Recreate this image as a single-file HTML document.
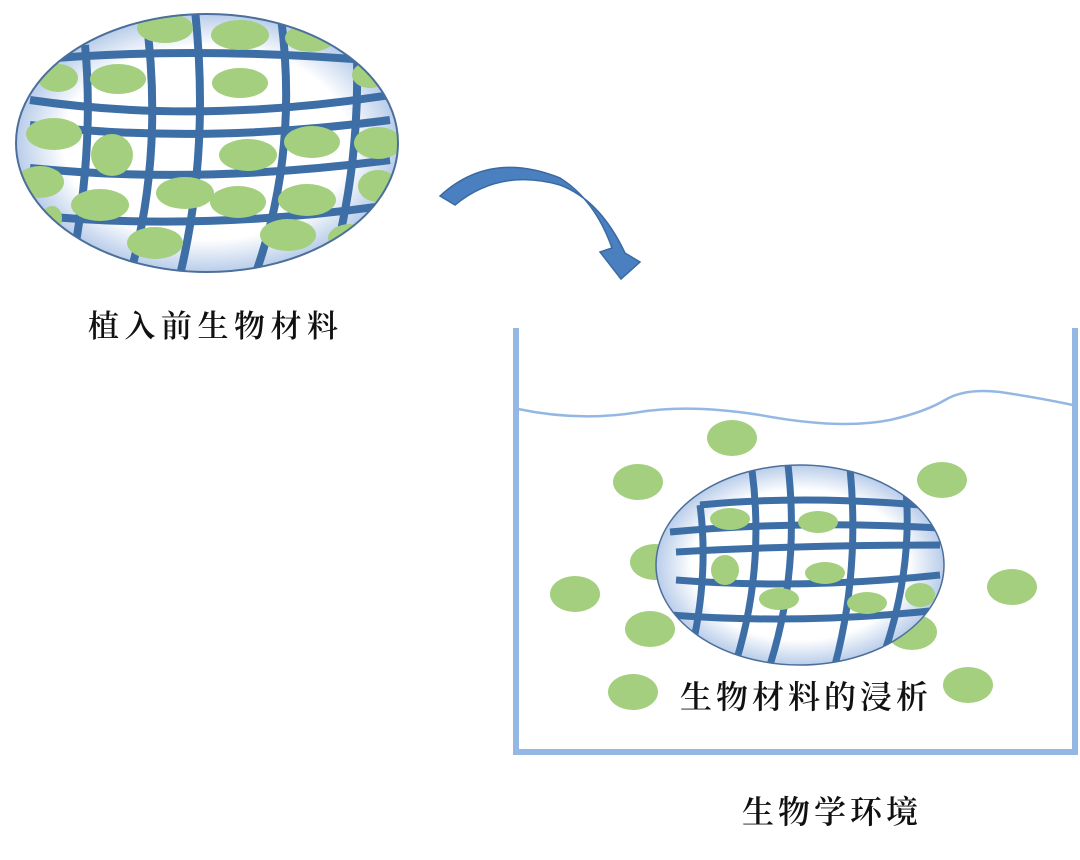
<!DOCTYPE html>
<html><head><meta charset="utf-8"><style>
body{margin:0;background:#fff;width:1080px;height:855px;overflow:hidden}
svg text{font-family:"Noto Serif CJK SC","Liberation Serif",serif;fill:#111;font-weight:600}
</style></head><body>
<svg width="1080" height="855" viewBox="0 0 1080 855">
<defs>
<radialGradient id="lens" cx="50%" cy="50%" r="50%">
<stop offset="0.75" stop-color="#fff"/><stop offset="1" stop-color="#b9cdea"/>
</radialGradient>
<clipPath id="c1"><ellipse cx="207" cy="143" rx="191" ry="129"/></clipPath>
<clipPath id="c2"><ellipse cx="800" cy="565" rx="144" ry="100"/></clipPath>
</defs>
<ellipse cx="207" cy="143" rx="191" ry="129" fill="url(#lens)"/>
<g clip-path="url(#c1)" stroke="#3d6fa6" stroke-width="8" fill="none">
<path d="M30 60 Q200 45 390 62"/>
<path d="M30 100 Q200 125 390 95"/>
<path d="M30 125 Q200 145 390 120"/>
<path d="M30 168 Q200 185 390 160"/>
<path d="M30 215 Q200 232 390 205"/>
<path d="M85 45 Q95 150 70 275"/>
<path d="M145 10 Q165 150 130 275"/>
<path d="M195 10 Q210 150 180 275"/>
<path d="M280 10 Q300 150 255 275"/>
<path d="M355 20 Q365 150 330 275"/>
</g>
<g clip-path="url(#c1)" fill="#a3cf7e">
<ellipse cx="165" cy="28" rx="28" ry="15"/><ellipse cx="240" cy="35" rx="29" ry="15"/><ellipse cx="310" cy="38" rx="25" ry="14"/>
<ellipse cx="58" cy="78" rx="20" ry="14"/><ellipse cx="118" cy="79" rx="28" ry="15"/><ellipse cx="240" cy="83" rx="28" ry="15"/><ellipse cx="370" cy="75" rx="18" ry="13"/>
<ellipse cx="54" cy="134" rx="28" ry="16"/><ellipse cx="112" cy="155" rx="21" ry="21"/><ellipse cx="248" cy="155" rx="29" ry="16"/><ellipse cx="312" cy="142" rx="28" ry="16"/><ellipse cx="378" cy="143" rx="24" ry="16"/>
<ellipse cx="40" cy="182" rx="24" ry="16"/><ellipse cx="100" cy="205" rx="29" ry="16"/><ellipse cx="185" cy="193" rx="29" ry="16"/><ellipse cx="238" cy="202" rx="28" ry="16"/><ellipse cx="307" cy="200" rx="29" ry="16"/><ellipse cx="378" cy="186" rx="20" ry="16"/>
<ellipse cx="155" cy="243" rx="28" ry="16"/><ellipse cx="288" cy="235" rx="28" ry="16"/><ellipse cx="350" cy="238" rx="22" ry="14"/><ellipse cx="52" cy="218" rx="10" ry="12"/>
</g>
<ellipse cx="207" cy="143" rx="191" ry="129" fill="none" stroke="#4b6f9a" stroke-width="2"/>
<text x="88" y="337" font-size="31" letter-spacing="5.5">植入前生物材料</text>
<path d="M440 196 Q490 150 560 178 Q595 200 612 248 L600 252 L621 279 L640 262 L625 253 Q600 200 560 185 Q500 168 455 205 Z" fill="#4a80c0" stroke="#3a6aa2" stroke-width="1.5"/>
<path d="M516 328 L516 752 L1075 752 L1075 328" fill="none" stroke="#94b8e3" stroke-width="6"/>
<path d="M518 409 Q580 422 640 412 Q690 404 760 415 Q840 430 890 420 Q925 412 945 400 Q965 388 1000 392 Q1040 398 1073 405" fill="none" stroke="#94b8e3" stroke-width="2.5"/>
<g fill="#a3cf7e">
<ellipse cx="732" cy="438" rx="25" ry="18"/><ellipse cx="638" cy="482" rx="25" ry="18"/><ellipse cx="942" cy="480" rx="25" ry="18"/>
<ellipse cx="655" cy="562" rx="25" ry="18"/><ellipse cx="575" cy="594" rx="25" ry="18"/><ellipse cx="1012" cy="587" rx="25" ry="18"/>
<ellipse cx="650" cy="629" rx="25" ry="18"/><ellipse cx="912" cy="632" rx="25" ry="18"/><ellipse cx="633" cy="692" rx="25" ry="18"/><ellipse cx="968" cy="685" rx="25" ry="18"/>
</g>
<ellipse cx="800" cy="565" rx="144" ry="100" fill="url(#lens)"/>
<g clip-path="url(#c2)" stroke="#3d6fa6" stroke-width="7" fill="none">
<path d="M670 532 Q800 520 940 528"/>
<path d="M676 552 Q800 545 940 545"/>
<path d="M676 580 Q800 590 940 575"/>
<path d="M670 615 Q800 625 940 610"/>
<path d="M700 505 Q710 580 688 665"/>
<path d="M752 470 Q765 570 735 665"/>
<path d="M788 465 Q800 570 770 665"/>
<path d="M850 468 Q860 570 835 665"/>
<path d="M905 480 Q915 570 880 665"/>
<path d="M700 505 Q800 495 920 505"/>
</g>
<g clip-path="url(#c2)" fill="#a3cf7e">
<ellipse cx="730" cy="519" rx="20" ry="11"/><ellipse cx="818" cy="522" rx="20" ry="11"/>
<ellipse cx="725" cy="570" rx="14" ry="15"/><ellipse cx="825" cy="573" rx="20" ry="11"/>
<ellipse cx="779" cy="599" rx="20" ry="11"/><ellipse cx="867" cy="603" rx="20" ry="11"/><ellipse cx="920" cy="595" rx="15" ry="12"/>
</g>
<ellipse cx="800" cy="565" rx="144" ry="100" fill="none" stroke="#4b6f9a" stroke-width="1.5"/>
<text x="680" y="708" font-size="32" letter-spacing="4">生物材料的浸析</text>
<text x="742" y="823" font-size="32" letter-spacing="4">生物学环境</text>
</svg>
</body></html>
